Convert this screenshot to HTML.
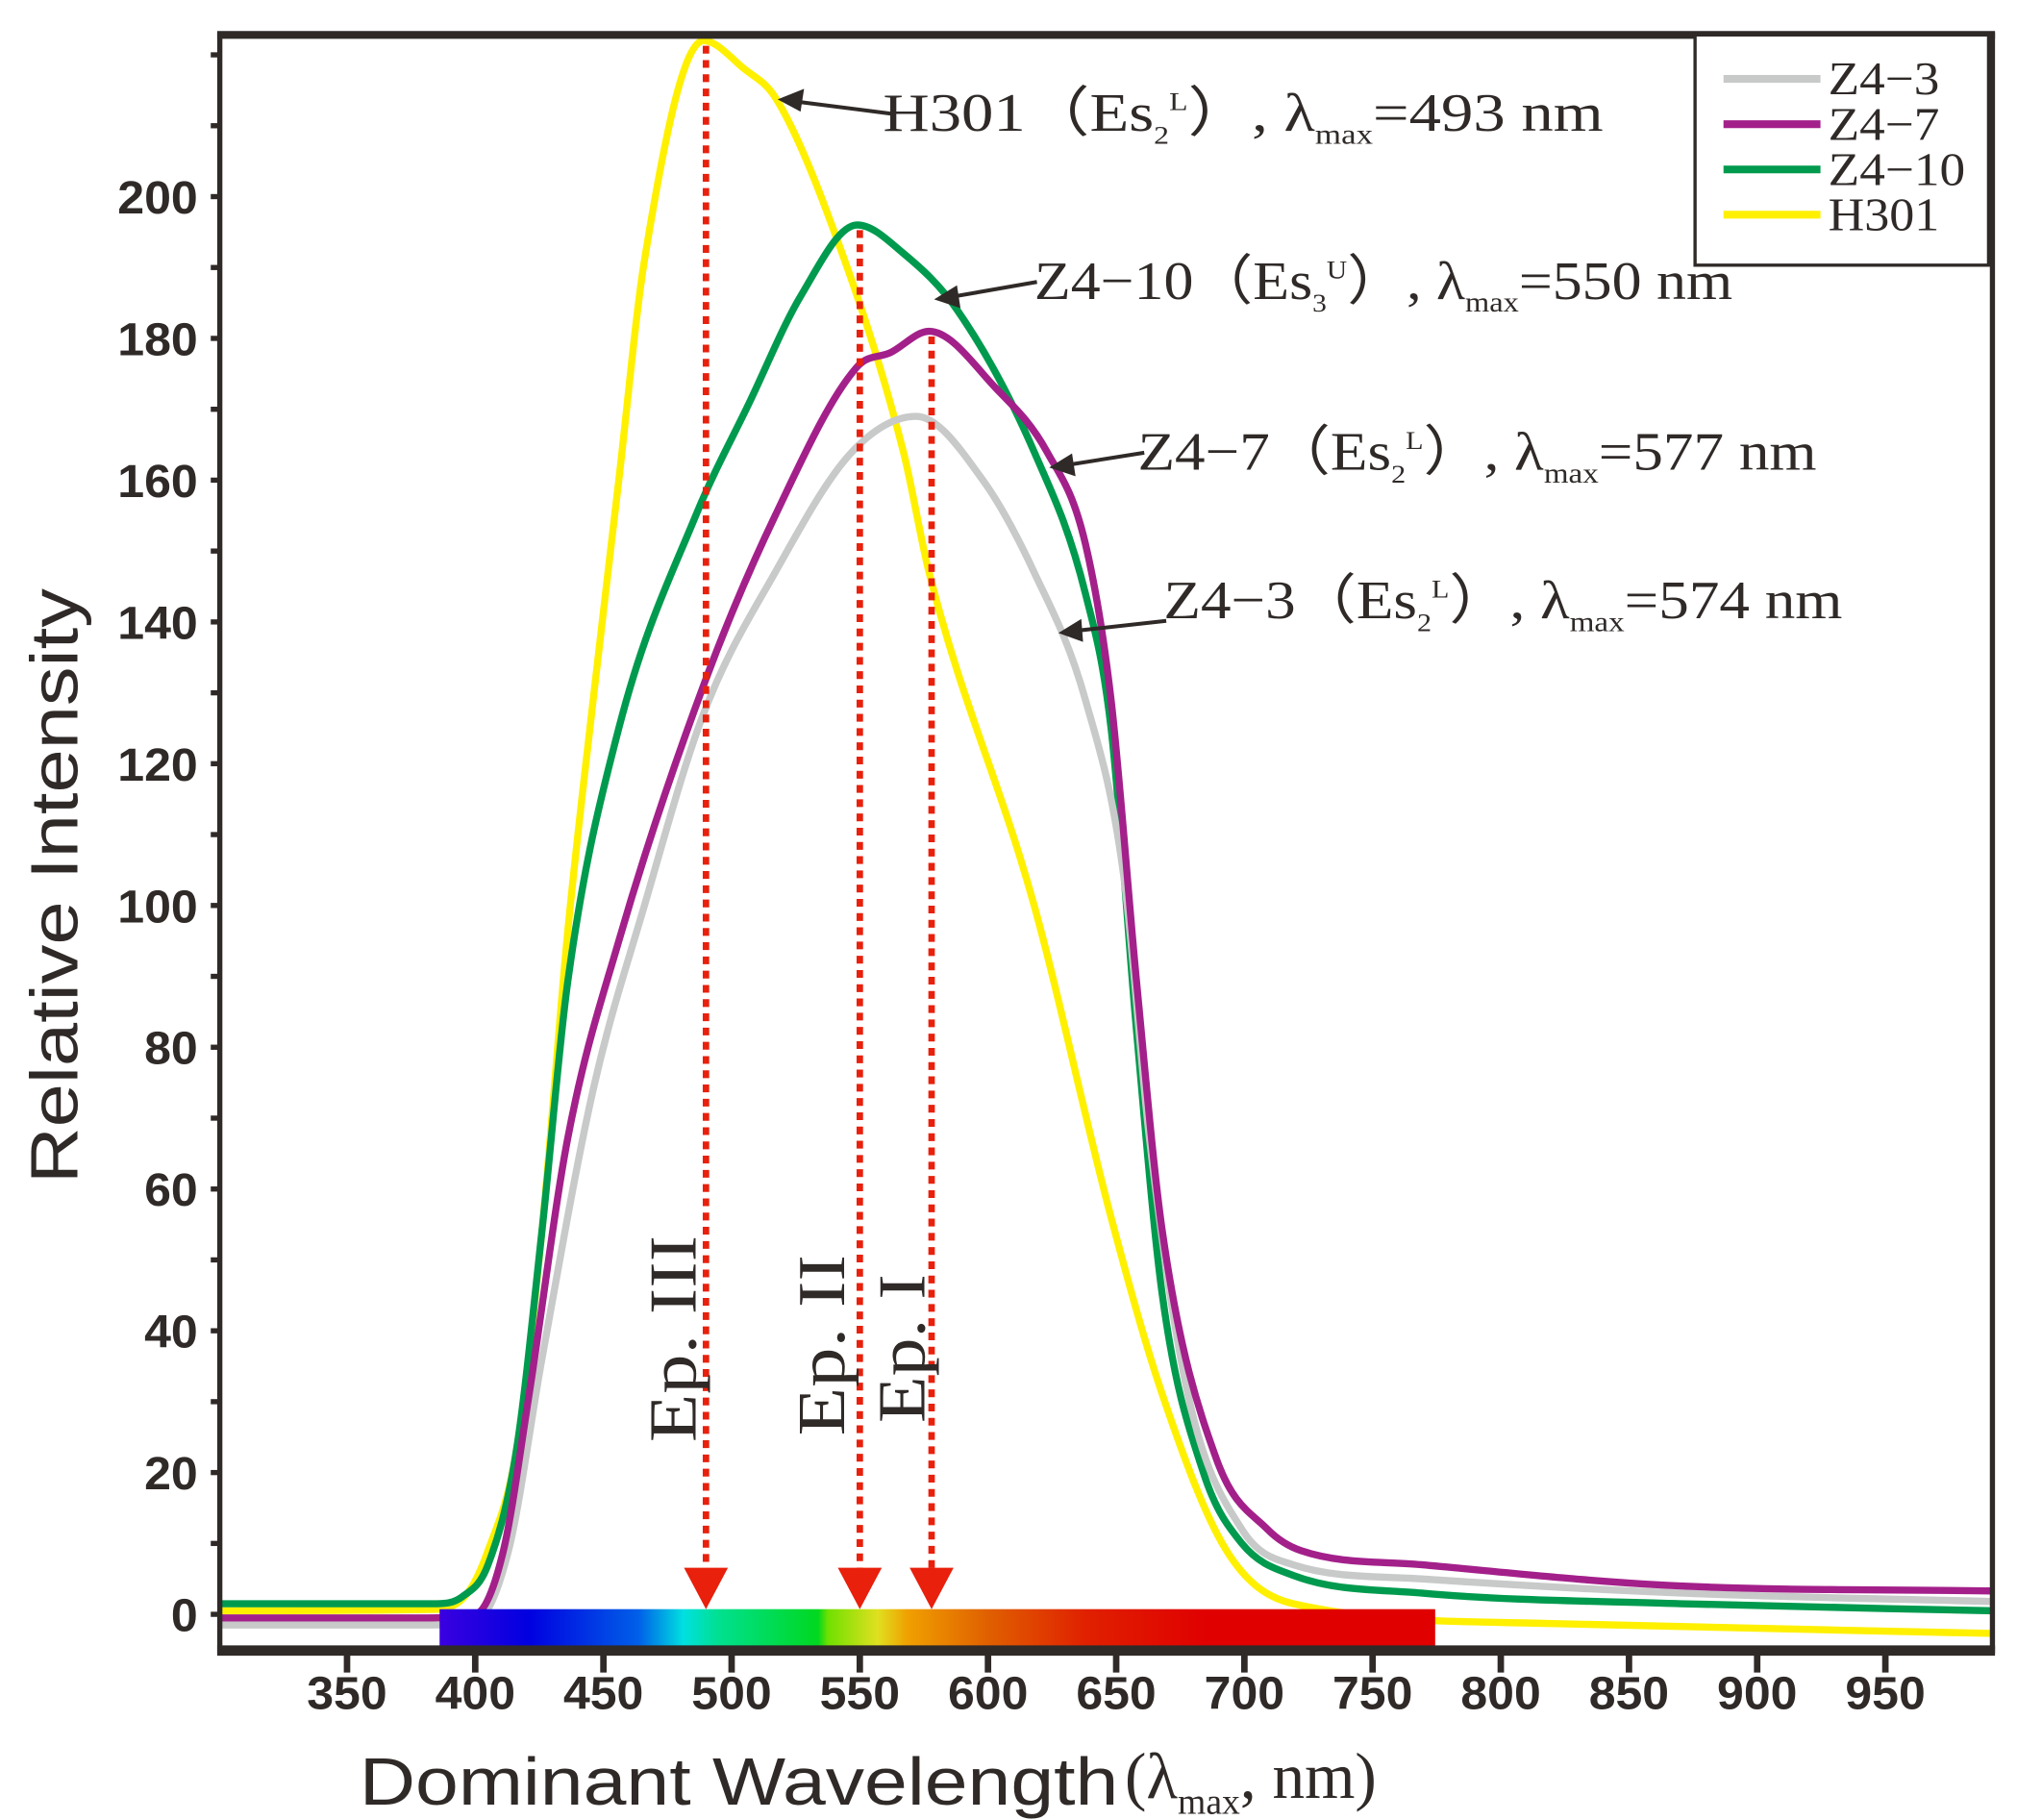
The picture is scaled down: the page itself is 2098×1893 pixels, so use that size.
<!DOCTYPE html>
<html><head><meta charset="utf-8"><style>
html,body{margin:0;padding:0;background:#fff;}
svg{display:block;}
.tk{font-family:"Liberation Sans",sans-serif;font-weight:bold;font-size:36px;fill:#2f2a28;}
.ser{font-family:"Liberation Serif",serif;fill:#2f2a28;}
</style></head><body>
<svg id="chart" width="2098" height="1893" viewBox="0 0 1560 1407" preserveAspectRatio="none" xmlns="http://www.w3.org/2000/svg">
<defs>
<linearGradient id="spec" x1="0" x2="1" y1="0" y2="0">
<stop offset="0" stop-color="#3a00e0"/>
<stop offset="0.09" stop-color="#0000e0"/>
<stop offset="0.2" stop-color="#0060e8"/>
<stop offset="0.245" stop-color="#00e0e0"/>
<stop offset="0.28" stop-color="#00e090"/>
<stop offset="0.38" stop-color="#00d820"/>
<stop offset="0.39" stop-color="#70e000"/>
<stop offset="0.44" stop-color="#e0e020"/>
<stop offset="0.47" stop-color="#f0a000"/>
<stop offset="0.55" stop-color="#e06000"/>
<stop offset="0.65" stop-color="#e02000"/>
<stop offset="0.77" stop-color="#e00000"/>
<stop offset="1" stop-color="#e00000"/>
</linearGradient>
</defs>
<g id="plot"></g>
</svg>
<script>
const xTicks=[350,400,450,500,550,600,650,700,750,800,850,900,950];
const yTicks=[0,20,40,60,80,100,120,140,160,180,200];
const wlZ43=[300,380,400,413,426,446,466,489,517,547,572,598,618,638,653,663,678,699,719,769,870,992];
const vZ43=[-1.5,-1.5,-1,9,36,74,100,127,147,164,169,160,147,129,104,67,31,12,7,5,3,1.8];
const wlZ47=[300,380,400,411,421,436,456,489,517,549,562,577,603,623,638,648,658,668,689,709,722,769,870,992];
const vZ47=[-0.5,-0.5,0,9,31,67,95,131,155,176,178,181,173,164,151,129,89,54,22,12,9,7,4,3.3];
const wlZ410=[300,385,395,405,416,426,436,456,486,507,527,549,567,588,618,638,648,658,668,684,699,719,769,870,992];
const vZ410=[1.5,1.5,2.5,7,23,54,89,125,155,171,186,196,192,184,164,144,125,82,45,20,10,5.5,3,1.5,0.5];
const wlH301=[300,385,397,405,416,426,436,446,456,466,489,505,517,537,567,577,618,648,668,693,719,820,992];
const vH301=[0.5,0.7,3,9,23,54,96,129,160,191,222,218,214,198,164,147,100,56,31,9,1.5,-1.3,-2.7];
const seriesNames=["Z4-3","Z4-7","Z4-10","H301"];
const seriesColors=["#c8c9c9","#a3208a","#009a4e","#fff000"];
const peaks=[490,550,578];
const peakVals=[222,196,181];

const X0=170,X1=1541,Y0=27,Y1=1276;
function xs(w){return 268.4+(w-350)*1.983;}
function ys(v){return 1248-v*5.48;}
const NS="http://www.w3.org/2000/svg";
const g=document.getElementById('plot');
function mk(t,a,p){const e=document.createElementNS(NS,t);for(const k in a)e.setAttribute(k,a[k]);(p||g).appendChild(e);return e;}
function path(wl,v){
  const p=wl.map((w,i)=>[xs(w),ys(v[i])]);
  const n=p.length,d=[],m=new Array(n);
  for(let i=0;i<n-1;i++)d.push((p[i+1][1]-p[i][1])/(p[i+1][0]-p[i][0]));
  m[0]=d[0];m[n-1]=d[n-2];
  for(let i=1;i<n-1;i++){m[i]=(d[i-1]*d[i]<=0)?0:(d[i-1]+d[i])/2;}
  for(let i=0;i<n-1;i++){
    if(d[i]===0){m[i]=0;m[i+1]=0;continue;}
    const a=m[i]/d[i],b=m[i+1]/d[i],s=a*a+b*b;
    if(s>9){const t=3/Math.sqrt(s);m[i]=t*a*d[i];m[i+1]=t*b*d[i];}
  }
  let s="M"+p[0][0]+","+p[0][1];
  for(let i=0;i<n-1;i++){
    const h=(p[i+1][0]-p[i][0])/3;
    s+=" C"+(p[i][0]+h)+","+(p[i][1]+m[i]*h)+" "+(p[i+1][0]-h)+","+(p[i+1][1]-m[i+1]*h)+" "+p[i+1][0]+","+p[i+1][1];
  }
  return s;
}
const cp=mk('clipPath',{id:'clip'});mk('rect',{x:X0,y:Y0,width:X1-X0,height:Y1-Y0},cp);
const data=[[wlZ43,vZ43],[wlZ47,vZ47],[wlZ410,vZ410],[wlH301,vH301]];
const order=[3,2,0,1];
const sg=mk('g',{'clip-path':'url(#clip)'});


order.forEach(i=>{
  const e=mk('path',{d:path(data[i][0],data[i][1]),fill:'none',stroke:seriesColors[i],'stroke-width':5.5,'stroke-linejoin':'round'},sg);
  
  
});
const sb=mk('rect',{x:340,y:1244,width:770,height:29,fill:'url(#spec)'});


peaks.forEach((w,i)=>{
  const x=xs(w);
  const l=mk('line',{x1:x,x2:x,y1:ys(peakVals[i])+4,y2:1215,stroke:'#e8200c','stroke-width':5,'stroke-dasharray':'6,5'});
  
  
  const a=mk('polygon',{points:(x-17)+",1212 "+(x+17)+",1212 "+x+",1244",fill:'#e8200c'});
  
  
});
const fr=mk('rect',{x:X0,y:Y0,width:X1-X0,height:Y1-Y0,fill:'none',stroke:'#2f2a28','stroke-width':4});


mk('line',{x1:X0-2,x2:X1+2,y1:Y1,y2:Y1,stroke:'#2f2a28','stroke-width':8});
mk('line',{x1:X0-2,x2:X1+2,y1:Y0,y2:Y0,stroke:'#2f2a28','stroke-width':6});
xTicks.forEach(t=>{
  const x=xs(t);
  mk('line',{x1:x,x2:x,y1:Y1,y2:Y1+17,stroke:'#2f2a28','stroke-width':5});
  const tx=mk('text',{x:x-31,y:1321,textLength:62,lengthAdjust:'spacingAndGlyphs',class:'tk'});
  tx.textContent=t;
  
  
});
for(let v=0;v<=220;v+=10){mk('line',{x1:X0-7,x2:X0,y1:ys(v),y2:ys(v),stroke:'#2f2a28','stroke-width':4});}
yTicks.forEach(t=>{
  const w=String(t).length*20.7;
  const tx=mk('text',{x:153-w,y:ys(t)+13,textLength:w,lengthAdjust:'spacingAndGlyphs',class:'tk'});
  tx.textContent=t;
  
  
});
</script>
<script>
(function(){
const svg=document.getElementById('chart');
svg.insertAdjacentHTML('beforeend',`
<text transform="translate(60,915) rotate(-90)" textLength="460" lengthAdjust="spacingAndGlyphs" font-family="Liberation Sans, sans-serif" font-size="52" fill="#2f2a28">Relative Intensity</text>
<text x="278" y="1395" textLength="587" lengthAdjust="spacingAndGlyphs" font-family="Liberation Sans, sans-serif" font-size="52" fill="#2f2a28">Dominant Wavelength</text>
<text x="870" y="1390" font-family="Liberation Serif, serif" font-size="50" fill="#2f2a28">(λ<tspan font-size="28" dy="12">max</tspan><tspan dy="-12">,   nm)</tspan></text>
<g>
<rect x="1311" y="27" width="227" height="178" fill="#fff" stroke="#2f2a28" stroke-width="2.5"/>
<line x1="1333" x2="1408" y1="61" y2="61" stroke="#c8c9c9" stroke-width="6"/>
<text class="ser" x="1414" y="73" font-size="36" textLength="86" lengthAdjust="spacingAndGlyphs">Z4−3</text>
<line x1="1333" x2="1408" y1="96" y2="96" stroke="#a3208a" stroke-width="6"/>
<text class="ser" x="1414" y="108" font-size="36" textLength="86" lengthAdjust="spacingAndGlyphs">Z4−7</text>
<line x1="1333" x2="1408" y1="131" y2="131" stroke="#009a4e" stroke-width="6"/>
<text class="ser" x="1414" y="143" font-size="36" textLength="106" lengthAdjust="spacingAndGlyphs">Z4−10</text>
<line x1="1333" x2="1408" y1="166" y2="166" stroke="#fff000" stroke-width="6"/>
<text class="ser" x="1414" y="178" font-size="36" textLength="86" lengthAdjust="spacingAndGlyphs">H301</text>
</g>
<g stroke="#2f2a28" stroke-width="3">
<line x1="690" y1="88" x2="612" y2="78"/><polygon points="605,77 620,71 618,84" fill="#2f2a28"/>
<line x1="802" y1="218" x2="733" y2="230"/><polygon points="726,231 739,223 741,236" fill="#2f2a28"/>
<line x1="885" y1="350" x2="822" y2="360"/><polygon points="815,361 828,353 830,366" fill="#2f2a28"/>
<line x1="902" y1="480" x2="829" y2="488"/><polygon points="822,489 835,481 836,494" fill="#2f2a28"/>
</g>
<text class="ser" x="683" y="101" font-size="42" textLength="557" lengthAdjust="spacingAndGlyphs">H301（Es<tspan font-size="20" dy="10">2</tspan><tspan font-size="20" dy="-26">L</tspan><tspan dy="16">）,   λ</tspan><tspan font-size="22" dy="10">max</tspan><tspan dy="-10">=493 nm</tspan></text>
<text class="ser" x="800" y="231" font-size="42" textLength="540" lengthAdjust="spacingAndGlyphs">Z4−10（Es<tspan font-size="20" dy="10">3</tspan><tspan font-size="20" dy="-26">U</tspan><tspan dy="16">）, λ</tspan><tspan font-size="22" dy="10">max</tspan><tspan dy="-10">=550 nm</tspan></text>
<text class="ser" x="880" y="363" font-size="42" textLength="525" lengthAdjust="spacingAndGlyphs">Z4−7（Es<tspan font-size="20" dy="10">2</tspan><tspan font-size="20" dy="-26">L</tspan><tspan dy="16">）, λ</tspan><tspan font-size="22" dy="10">max</tspan><tspan dy="-10">=577 nm</tspan></text>
<text class="ser" x="900" y="478" font-size="42" textLength="525" lengthAdjust="spacingAndGlyphs">Z4−3（Es<tspan font-size="20" dy="10">2</tspan><tspan font-size="20" dy="-26">L</tspan><tspan dy="16">）, λ</tspan><tspan font-size="22" dy="10">max</tspan><tspan dy="-10">=574 nm</tspan></text>
<text class="ser" transform="translate(538,1115) rotate(-90)" font-size="52" textLength="160" lengthAdjust="spacingAndGlyphs">Ep. III</text>
<text class="ser" transform="translate(653,1110) rotate(-90)" font-size="52" textLength="140" lengthAdjust="spacingAndGlyphs">Ep. II</text>
<text class="ser" transform="translate(715,1100) rotate(-90)" font-size="52" textLength="115" lengthAdjust="spacingAndGlyphs">Ep. I</text>
`);
})();
</script>
</body></html>
